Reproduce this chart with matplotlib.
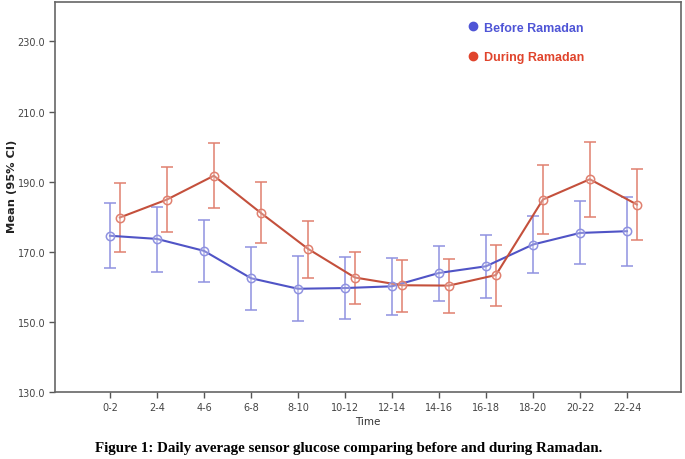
import matplotlib.pyplot as plt
import numpy as np
from matplotlib.lines import Line2D

# values (mean and 95% CI bounds)
periods = ["0-2", "2-4", "4-6", "6-8", "8-10", "10-12", "12-14", "14-16", "16-18", "18-20", "20-22", "22-24"]

before_mean = [174.6, 173.7, 170.3, 162.5, 159.5, 159.7, 160.2, 164.0, 165.9, 172.1, 175.4, 175.9]
before_hi = [184.0, 182.9, 179.2, 171.5, 168.7, 168.5, 168.4, 171.8, 174.7, 180.3, 184.5, 185.7]
before_lo = [165.4, 164.3, 161.3, 153.4, 150.4, 150.9, 151.9, 156.1, 156.9, 163.9, 166.6, 166.1]

during_mean = [179.8, 184.9, 191.7, 181.1, 170.9, 162.7, 160.5, 160.4, 163.4, 184.9, 190.7, 183.5]
during_hi = [189.5, 194.2, 200.9, 190.0, 178.9, 170.0, 167.8, 168.1, 172.1, 194.7, 201.4, 193.7]
during_lo = [170.1, 175.6, 182.5, 172.5, 162.6, 155.2, 152.9, 152.5, 154.7, 175.2, 179.9, 173.3]

yticks = [130, 150, 170, 190, 210, 230]

plt.rcParams['font.family'] = ['DejaVu Sans']

fig = plt.figure(figsize=(6.85, 4.6), dpi=100)
ax = fig.add_axes([0.0803, 0.145, 0.9139, 0.8485])

x = np.arange(len(periods))
offset = 0.21

series = [
    (x, before_mean, before_lo, before_hi, "#5054c6", "#8f92e0"),
    (x + offset, during_mean, during_lo, during_hi, "#c4503c", "#e0806f"),
]
for xs, m, lo, hi, lc, ec in series:
    m = np.array(m)
    yerr = [m - np.array(lo), np.array(hi) - m]
    ax.errorbar(xs, m, yerr=yerr, fmt="none", ecolor=ec, elinewidth=1.1,
                capsize=4.5, capthick=1.1, zorder=2)
    ax.plot(xs, m, color=lc, lw=1.5, zorder=3)
    ax.plot(xs, m, "o", ms=6, mfc=(1, 1, 1, 0.3), mec=ec, mew=1.1, zorder=4)

ax.set_xlim(-1.17, 12.15)
ax.set_ylim(130, 241.2)
ax.set_xticks(x)
ax.set_xticklabels(periods)
ax.set_yticks(yticks)
ax.set_yticklabels([f"{v:.1f}" for v in yticks])
ax.tick_params(axis="both", direction="out", length=4, width=1, color="#555555",
               labelsize=7, labelcolor="#444444", pad=3)

for s in ax.spines.values():
    s.set_color("#666666")
    s.set_linewidth(1.2)

ax.set_xlabel("Time", fontsize=7.5, color="#333333", labelpad=3)
ax.set_ylabel("Mean (95% CI)", fontsize=8.2, fontweight="bold", color="#222222")
ax.yaxis.set_label_coords(-0.061, 0.53)

handles = [
    Line2D([], [], ls="none", marker="o", ms=6, color="#4f55d6"),
    Line2D([], [], ls="none", marker="o", ms=6, color="#e0442c"),
]
leg = ax.legend(handles, ["Before Ramadan", "During Ramadan"], loc="upper left",
                bbox_to_anchor=(0.642, 0.978), frameon=False, handlelength=0.8,
                handletextpad=0.45, labelspacing=1.37,
                prop={"family": ["Liberation Sans", "DejaVu Sans"], "weight": "bold", "size": 9})
for t, c in zip(leg.get_texts(), ["#4f55d6", "#e0442c"]):
    t.set_color(c)

fig.text(0.509, 0.024, "Figure 1: Daily average sensor glucose comparing before and during Ramadan.",
         ha="center", va="center", fontsize=10.8, fontweight="bold",
         family=["Liberation Serif", "DejaVu Serif"])

fig.savefig("out.png", dpi=100)
